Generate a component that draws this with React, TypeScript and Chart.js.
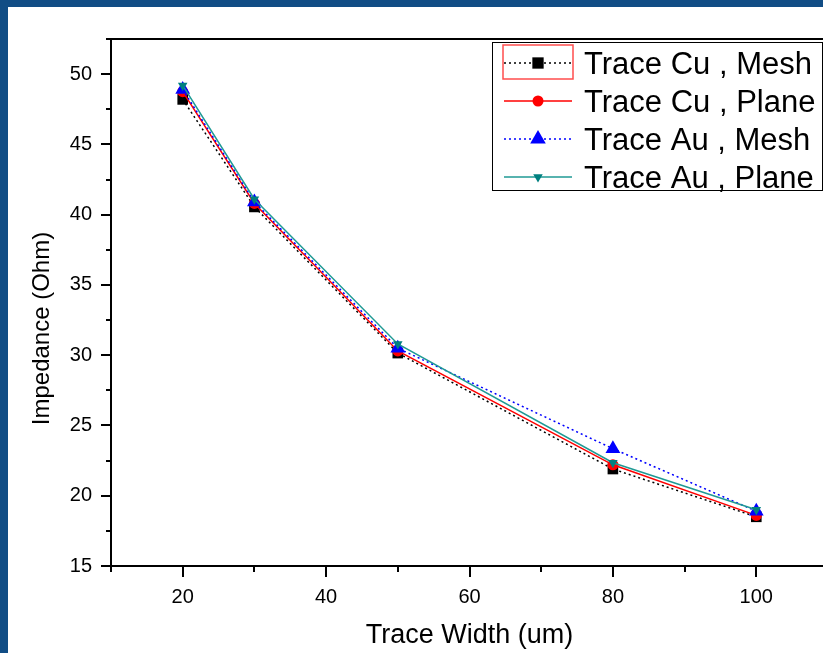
import React, { useEffect, useRef } from 'react';
import { Chart, registerables } from 'chart.js';

Chart.register(...registerables);

// ---- data ----
const traceWidths = [20, 30, 50, 80, 100];
const cuMesh = [48.2, 40.55, 30.15, 21.9, 18.5];
const cuPlane = [48.75, 40.8, 30.3, 22.2, 18.6];
const auMesh = [48.9, 40.9, 30.5, 23.35, 18.9];
const auPlane = [49.2, 41.1, 30.8, 22.35, 19.0];
const seriesLabels = ['Trace Cu , Mesh', 'Trace Cu , Plane', 'Trace Au , Mesh', 'Trace Au , Plane'];

const xRange = [10, 110];
const yRange = [15, 52.5];
const xMajorTicks = [20, 40, 60, 80, 100];
const xMinorTicks = [10, 30, 50, 70, 90, 110];
const yMajorTicks = [15, 20, 25, 30, 35, 40, 45, 50];
const yMinorTicks = [17.5, 22.5, 27.5, 32.5, 37.5, 42.5, 47.5, 52.5];

const xTitle = 'Trace Width (um)';
const yTitle = 'Impedance (Ohm)';

const FONT = '"Liberation Sans", Arial, sans-serif';

type Style = {
  color: string;
  line: string;
  dash: number[];
  pointStyle: string;
  radius: number;
  rotation: number;
  legendRadius: number;
};

const styles: Style[] = [
  { color: '#000000', line: '#000000', dash: [2, 3], pointStyle: 'rect', radius: 7.5, rotation: 0, legendRadius: 8 },
  { color: '#ff0000', line: '#ff0000', dash: [], pointStyle: 'circle', radius: 5.5, rotation: 0, legendRadius: 5.5 },
  { color: '#0000ff', line: '#0000ff', dash: [2, 3], pointStyle: 'triangle', radius: 8.5, rotation: 0, legendRadius: 9 },
  { color: '#008080', line: '#1f9a94', dash: [], pointStyle: 'triangle', radius: 5.5, rotation: 180, legendRadius: 5.5 },
];

const seriesValues = [cuMesh, cuPlane, auMesh, auPlane];

const axesPlugin = {
  id: 'originAxes',
  beforeDatasetsDraw(chart: any) {
    const { ctx, chartArea: a, scales } = chart;
    const x = scales.x;
    const y = scales.y;
    ctx.save();
    ctx.strokeStyle = '#000';
    ctx.lineWidth = 2;
    ctx.beginPath();
    ctx.moveTo(a.left, a.top);
    ctx.lineTo(a.left, a.bottom + 1);
    ctx.moveTo(a.left - 1, a.bottom);
    ctx.lineTo(a.right, a.bottom);
    ctx.moveTo(a.left, a.top);
    ctx.lineTo(a.right, a.top);
    ctx.moveTo(a.right, a.top);
    ctx.lineTo(a.right, a.bottom);
    for (const v of xMajorTicks) {
      const px = Math.round(x.getPixelForValue(v));
      ctx.moveTo(px, a.bottom);
      ctx.lineTo(px, a.bottom + 11);
    }
    for (const v of xMinorTicks) {
      const px = Math.round(x.getPixelForValue(v));
      ctx.moveTo(px, a.bottom);
      ctx.lineTo(px, a.bottom + 6);
    }
    for (const v of yMajorTicks) {
      const py = Math.round(y.getPixelForValue(v));
      ctx.moveTo(a.left, py);
      ctx.lineTo(a.left - 10, py);
    }
    for (const v of yMinorTicks) {
      const py = Math.round(y.getPixelForValue(v));
      ctx.moveTo(a.left, py);
      ctx.lineTo(a.left - 5, py);
    }
    ctx.stroke();

    // y-axis title (Origin places it slightly below the centre)
    ctx.save();
    ctx.translate(42, (a.top + a.bottom) / 2 + 26);
    ctx.rotate(-Math.PI / 2);
    ctx.fillStyle = '#000';
    ctx.font = '24px ' + FONT;
    ctx.textAlign = 'center';
    ctx.textBaseline = 'middle';
    ctx.fillText(yTitle, 0, 0);
    ctx.restore();

    ctx.restore();
  },
};

function drawMarker(ctx: CanvasRenderingContext2D, s: Style, cx: number, cy: number) {
  const r = s.legendRadius;
  ctx.beginPath();
  if (s.pointStyle === 'rect') {
    const h = r * Math.SQRT1_2;
    ctx.rect(cx - h, cy - h, 2 * h, 2 * h);
  } else if (s.pointStyle === 'circle') {
    ctx.arc(cx, cy, r, 0, Math.PI * 2);
  } else {
    const sign = s.rotation === 180 ? -1 : 1;
    const tw = (2 * Math.PI) / 3;
    for (let k = 0; k < 3; k++) {
      const ang = k * tw;
      const px = cx + Math.sin(ang) * r * sign;
      const py = cy - Math.cos(ang) * r * sign;
      if (k === 0) ctx.moveTo(px, py);
      else ctx.lineTo(px, py);
    }
    ctx.closePath();
  }
  ctx.fill();
}

const legendPlugin = {
  id: 'originLegend',
  afterDraw(chart: any) {
    const { ctx, chartArea: a } = chart;
    const boxRight = a.right - 6;
    const boxLeft = boxRight - 330;
    const boxTop = a.top + 3;
    const boxH = 148;
    ctx.save();
    ctx.fillStyle = '#ffffff';
    ctx.fillRect(boxLeft, boxTop, boxRight - boxLeft, boxH);
    ctx.strokeStyle = '#000';
    ctx.lineWidth = 1;
    ctx.strokeRect(boxLeft + 0.5, boxTop + 0.5, boxRight - boxLeft, boxH);

    const lineL = boxLeft + 11;
    const lineR = boxLeft + 81;
    const mx = boxLeft + 46;
    ctx.strokeStyle = '#ff4d4d';
    ctx.lineWidth = 1.5;
    ctx.strokeRect(lineL, boxTop + 3, lineR - lineL, 34);

    seriesLabels.forEach((label, i) => {
      const s = styles[i];
      const cy = boxTop + 21 + i * 38;
      ctx.save();
      ctx.strokeStyle = s.line;
      ctx.lineWidth = 1.5;
      ctx.setLineDash(s.dash);
      ctx.beginPath();
      ctx.moveTo(lineL + 1, cy);
      ctx.lineTo(lineR - 1, cy);
      ctx.stroke();
      ctx.restore();
      ctx.fillStyle = s.color;
      drawMarker(ctx, s, mx, cy);
      ctx.fillStyle = '#000';
      ctx.font = '31px ' + FONT;
      ctx.textBaseline = 'alphabetic';
      ctx.textAlign = 'left';
      ctx.fillText(label, boxLeft + 92, cy + 11);
    });
    ctx.restore();
  },
};

export default function App() {
  const canvasRef = useRef<HTMLCanvasElement | null>(null);

  useEffect(() => {
    const canvas = canvasRef.current;
    if (!canvas) return;
    const datasets = seriesLabels.map((label, i) => {
      const s = styles[i];
      return {
        label,
        data: traceWidths.map((w, j) => ({ x: w, y: seriesValues[i][j] })),
        borderColor: s.line,
        backgroundColor: s.color,
        borderWidth: 1.5,
        borderDash: s.dash,
        pointStyle: s.pointStyle,
        pointRadius: s.radius,
        pointRotation: s.rotation,
        pointBackgroundColor: s.color,
        pointBorderColor: s.color,
        pointBorderWidth: 0,
        tension: 0,
        fill: false,
        order: 3 - i,
      };
    });

    const chart = new Chart(canvas, {
      type: 'line',
      data: { datasets } as any,
      options: {
        animation: false,
        responsive: false,
        devicePixelRatio: 1,
        layout: { padding: { left: 0, top: 39, right: 0, bottom: 0 } },
        plugins: {
          legend: { display: false },
          tooltip: { enabled: false },
          title: { display: false },
        },
        scales: {
          x: {
            type: 'linear',
            min: xRange[0],
            max: xRange[1],
            grid: { display: false, drawTicks: false },
            border: { display: false },
            ticks: {
              stepSize: 10,
              autoSkip: false,
              maxRotation: 0,
              padding: 19,
              color: '#000',
              font: { family: FONT, size: 20 },
              callback: (v: any) => (xMajorTicks.includes(Number(v)) ? String(v) : ''),
            },
            title: {
              display: true,
              text: xTitle,
              color: '#000',
              font: { family: FONT, size: 27, lineHeight: 1.2 },
              padding: { top: 0, bottom: 1 },
            },
            afterFit: (scale: any) => {
              scale.height = 87;
            },
          },
          y: {
            type: 'linear',
            min: yRange[0],
            max: yRange[1],
            grid: { display: false, drawTicks: false },
            border: { display: false },
            ticks: {
              stepSize: 2.5,
              autoSkip: false,
              padding: 19,
              color: '#000',
              font: { family: FONT, size: 20 },
              callback: (v: any) => (yMajorTicks.includes(Number(v)) ? String(v) : ''),
            },
            title: { display: false },
            afterFit: (scale: any) => {
              scale.width = 111;
            },
          },
        },
      },
      plugins: [axesPlugin, legendPlugin],
    } as any);

    return () => chart.destroy();
  }, []);

  return (
    <div
      style={{
        position: 'fixed',
        left: 0,
        top: 0,
        width: 823,
        height: 653,
        overflow: 'hidden',
        background: '#114d85',
      }}
    >
      <div style={{ position: 'absolute', left: 8, top: 7, right: 0, bottom: 0, background: '#ffffff' }} />
      <canvas
        ref={canvasRef}
        width={847}
        height={653}
        style={{ position: 'absolute', left: 0, top: 0, width: 847, height: 653 }}
      />
    </div>
  );
}
